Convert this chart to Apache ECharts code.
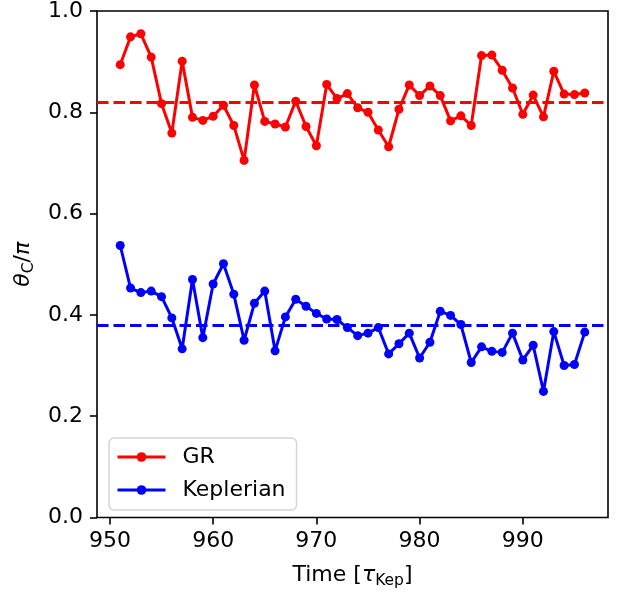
<!DOCTYPE html>
<html>
<head>
<meta charset="utf-8">
<script src="https://cdn.jsdelivr.net/npm/echarts@6/dist/echarts.min.js"></script>
<style>
  html, body { margin: 0; padding: 0; background: #fff; }
  #chart { width: 623px; height: 594px; }
</style>
</head>
<body>
<div id="chart"></div>
<script>
// Time samples in units of the Keplerian period
const timeSteps = [951, 952, 953, 954, 955, 956, 957, 958, 959, 960, 961, 962, 963, 964, 965, 966,
  967, 968, 969, 970, 971, 972, 973, 974, 975, 976, 977, 978, 979, 980, 981, 982, 983, 984, 985,
  986, 987, 988, 989, 990, 991, 992, 993, 994, 995, 996];

// theta_C / pi for the GR run
const grTheta = [0.894, 0.949, 0.955, 0.909, 0.817, 0.759, 0.901, 0.790, 0.784, 0.792, 0.814,
  0.774, 0.705, 0.854, 0.782, 0.777, 0.771, 0.822, 0.772, 0.734, 0.855, 0.827, 0.837, 0.809,
  0.800, 0.765, 0.732, 0.806, 0.854, 0.833, 0.852, 0.833, 0.783, 0.793, 0.774, 0.912, 0.913,
  0.883, 0.848, 0.796, 0.834, 0.791, 0.881, 0.836, 0.835, 0.838];

// theta_C / pi for the Keplerian run
const kepTheta = [0.537, 0.453, 0.444, 0.447, 0.436, 0.394, 0.333, 0.470, 0.355, 0.461, 0.501,
  0.441, 0.350, 0.423, 0.447, 0.329, 0.396, 0.431, 0.417, 0.403, 0.392, 0.391, 0.375, 0.359,
  0.364, 0.375, 0.323, 0.343, 0.364, 0.315, 0.346, 0.407, 0.399, 0.381, 0.306, 0.337, 0.328,
  0.326, 0.364, 0.311, 0.340, 0.249, 0.367, 0.300, 0.302, 0.366];

// Long-term averages (dashed reference lines)
const grMean = 0.824;
const kepMean = 0.380;

// Axis ticks
const xTicks = [950, 960, 970, 980, 990];
const yTicks = [0.0, 0.2, 0.4, 0.6, 0.8, 1.0];

const FONT = 'DejaVu Sans';
const FS = 22;

const chart = echarts.init(document.getElementById('chart'), null, { renderer: 'canvas' });

function pairs(xs, ys) {
  return xs.map((x, i) => [x, ys[i]]);
}

function meanLine(value, color) {
  return {
    silent: true,
    symbol: 'none',
    label: { show: false },
    lineStyle: { color: color, width: 3, type: [11.5, 5], opacity: 1 },
    emphasis: { disabled: true },
    data: [{ yAxis: value }]
  };
}

const richLabel = {
  n: { fontFamily: FONT, fontSize: FS, color: '#000', lineHeight: 27 },
  i: { fontFamily: FONT, fontSize: FS, fontStyle: 'italic', color: '#000', lineHeight: 27 },
  s: { fontFamily: FONT, fontSize: 15.5, color: '#000', padding: [12, 0, 0, 0], lineHeight: 15 }
};

chart.setOption({
  animation: false,
  textStyle: { fontFamily: FONT },
  grid: {
    left: 97, right: 15, top: 8, bottom: 72,
    show: true, borderColor: '#000', borderWidth: 1.6, backgroundColor: 'transparent'
  },
  legend: {
    orient: 'vertical',
    left: 109, top: 438,
    padding: [8, 11, 9, 7],
    itemWidth: 48,
    itemHeight: 12,
    itemGap: 11,
    borderColor: '#d6d6d6',
    borderWidth: 1.5,
    borderRadius: 5,
    backgroundColor: 'rgba(255,255,255,0.8)',
    lineStyle: { width: 3 },
    textStyle: { fontFamily: FONT, fontSize: FS, color: '#000', padding: [0, 0, 0, 12], lineHeight: 22 },
    data: ['GR', 'Keplerian']
  },
  xAxis: {
    type: 'value',
    min: 948.75, max: 998.25,
    splitLine: { show: false },
    axisLine: { show: false },
    axisTick: { show: true, length: 7, lineStyle: { color: '#000', width: 1.6 }, customValues: xTicks },
    axisLabel: {
      color: '#000', fontSize: FS, fontFamily: FONT, margin: 13,
      customValues: xTicks,
      formatter: v => String(v)
    },
    name: '{n|Time [}{i|τ}{s|Kep}{n|]}',
    nameLocation: 'middle',
    nameGap: 44,
    nameTextStyle: { color: '#000', rich: richLabel }
  },
  yAxis: {
    type: 'value',
    min: 0, max: 1, interval: 0.2,
    splitLine: { show: false },
    axisLine: { show: false },
    axisTick: { show: true, length: 7, lineStyle: { color: '#000', width: 1.6 } },
    axisLabel: {
      color: '#000', fontSize: FS, fontFamily: FONT, margin: 14,
      customValues: yTicks,
      formatter: v => v.toFixed(1)
    },
    name: '{i|θ}{s|C}{n|/}{i|π}',
    nameLocation: 'middle',
    nameRotate: 90,
    nameGap: 58,
    nameTextStyle: { color: '#000', rich: richLabel }
  },
  series: [
    {
      name: 'GR',
      type: 'line',
      data: pairs(timeSteps, grTheta),
      color: '#ff0000',
      symbol: 'circle',
      symbolSize: 9,
      showAllSymbol: true,
      lineStyle: { width: 3, color: '#ff0000' },
      itemStyle: { color: '#ff0000' },
      emphasis: { disabled: true },
      markLine: meanLine(grMean, '#ff0000'),
      z: 3
    },
    {
      name: 'Keplerian',
      type: 'line',
      data: pairs(timeSteps, kepTheta),
      color: '#0000ff',
      symbol: 'circle',
      symbolSize: 9,
      showAllSymbol: true,
      lineStyle: { width: 3, color: '#0000ff' },
      itemStyle: { color: '#0000ff' },
      emphasis: { disabled: true },
      markLine: meanLine(kepMean, '#0000ff'),
      z: 3
    }
  ]
});
</script>
</body>
</html>
